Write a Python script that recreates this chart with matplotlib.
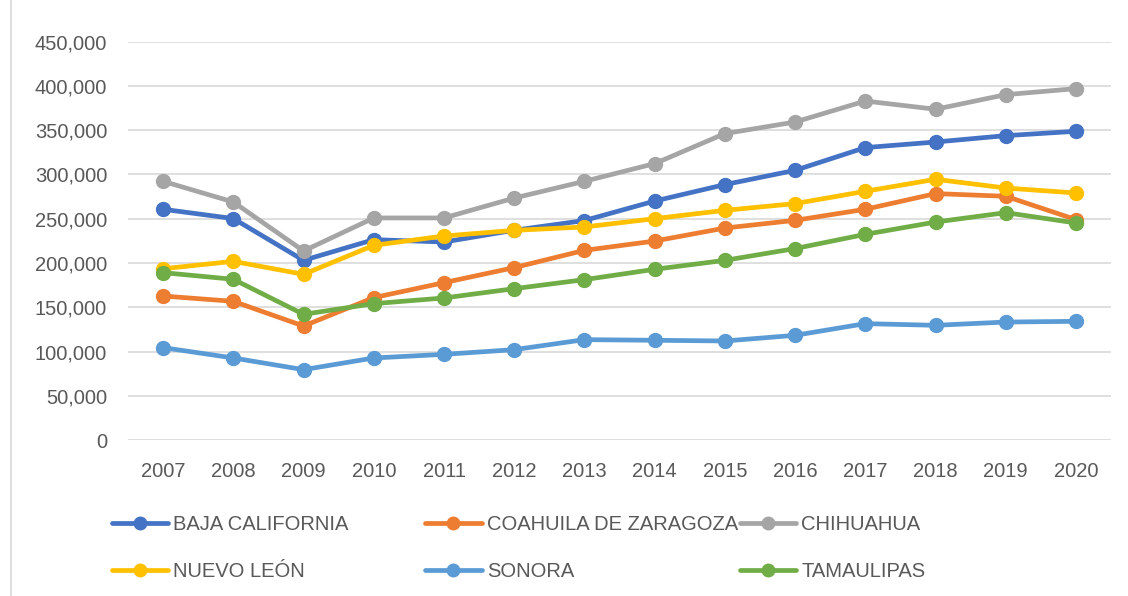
import matplotlib.pyplot as plt
from matplotlib.ticker import FuncFormatter
from matplotlib.lines import Line2D

years = [str(y) for y in range(2007, 2021)]

baja_california = [260700, 250200, 203000, 226400, 223700, 237000, 248000,
                   270000, 288600, 304700, 330400, 336700, 343900, 348800]
coahuila = [162700, 156700, 128800, 160900, 177800, 194800, 214300,
            224800, 239500, 248200, 260700, 278400, 275400, 249000]
chihuahua = [292300, 268900, 213600, 250900, 250900, 273400, 292300,
             312300, 346200, 359300, 383000, 373700, 390200, 397000]
nuevo_leon = [193500, 201900, 187200, 220000, 230500, 236900, 240700,
              250100, 259500, 267100, 281000, 294600, 284700, 279100]
sonora = [104400, 92700, 79500, 92700, 96800, 102100, 113400,
          112700, 111900, 118300, 131500, 129600, 133300, 134100]
tamaulipas = [189100, 181600, 142000, 154100, 160500, 171000, 181200,
              192900, 203000, 216300, 232400, 246300, 256900, 245200]

series = [
    ("BAJA CALIFORNIA", baja_california, "#4472C4"),
    ("COAHUILA DE ZARAGOZA", coahuila, "#ED7D31"),
    ("CHIHUAHUA", chihuahua, "#A5A5A5"),
    ("NUEVO LEÓN", nuevo_leon, "#FFC000"),
    ("SONORA", sonora, "#5B9BD5"),
    ("TAMAULIPAS", tamaulipas, "#70AD47"),
]

plt.rcParams['font.family'] = ['Liberation Sans', 'DejaVu Sans']
text_color = '#595959'
fsize = 14.5

fig = plt.figure(figsize=(11.28, 5.96), dpi=100)
ax = fig.add_axes([0.1135, 0.2617, 0.8715, 0.6683])

# light chart border on the left edge
fig.add_artist(Line2D([11 / 1128, 11 / 1128], [0, 1], color='#D9D9D9',
                      linewidth=1.2, transform=fig.transFigure))

handles = []
x = list(range(len(years)))
for name, vals, col in series:
    h, = ax.plot(x, vals, color=col, linewidth=3.4, marker='o',
                 markersize=10, label=name, solid_capstyle='round')
    handles.append(h)

ax.set_xlim(-0.5, len(years) - 0.5)
ax.set_ylim(0, 450000)
ax.set_yticks(range(0, 450001, 50000))
ax.yaxis.set_major_formatter(FuncFormatter(lambda v, p: f"{int(v):,}"))
ax.set_xticks(x)
ax.set_xticklabels(years)
ax.grid(axis='y', color='#D9D9D9', linewidth=1.2)
ax.set_axisbelow(True)
for s in ax.spines.values():
    s.set_visible(False)
ax.tick_params(axis='both', length=0, labelsize=fsize, colors=text_color)
ax.tick_params(axis='y', pad=15)
ax.tick_params(axis='x', pad=16)

# legend: three columns placed like the original
col_x = [0.0993, 0.377, 0.656]
for i, cx in enumerate(col_x):
    leg = fig.legend([handles[i], handles[i + 3]],
                     [series[i][0], series[i + 3][0]],
                     loc='upper left', bbox_to_anchor=(cx, 0.136),
                     frameon=False, fontsize=fsize, handlelength=2.8,
                     handletextpad=0.25, labelspacing=1.4,
                     borderaxespad=0, borderpad=0, markerscale=0.9)
    for t in leg.get_texts():
        t.set_color(text_color)

plt.savefig("out.png", dpi=100)
